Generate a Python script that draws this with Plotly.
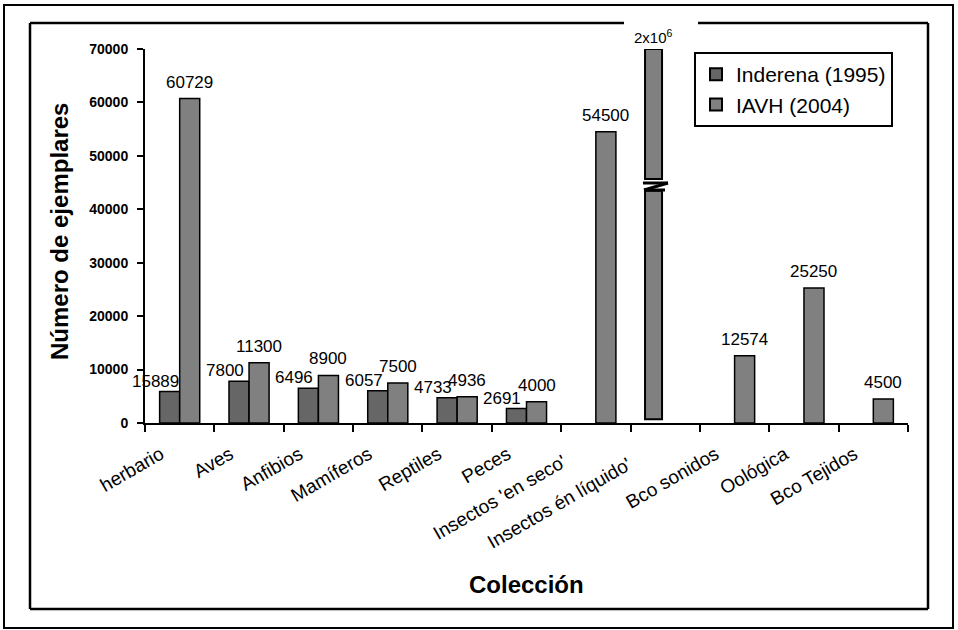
import plotly.graph_objects as go

categories = ["herbario", "Aves", "Anfibios", "Mamíferos", "Reptiles", "Peces",
              "Insectos 'en seco'", "Insectos én líquido'", "Bco sonidos", "Oológica", "Bco Tejidos"]
inderena_values = [5889, 7800, 6496, 6057, 4733, 2691, None, None, None, None, None]
inderena_labels = ["15889", "7800", "6496", "6057", "4733", "2691", "", "", "", "", ""]
iavh_values = [60729, 11300, 8900, 7500, 4936, 4000, 54500, None, 12574, 25250, 4500]
iavh_labels = ["60729", "11300", "8900", "7500", "4936", "4000", "54500", "", "12574", "25250", "4500"]
# broken bar (Insectos én líquido', 2x10^6 specimens), drawn in two segments
broken_category = "Insectos én líquido'"
broken_label = "2x10<sup>6</sup>"
broken_low = [700, 43450]
broken_high = [45650, 70000]

FONT = "Arial, Liberation Sans, sans-serif"
W, H = 958, 630
L, R, T, B = 145, 908, 49, 423

# trailing padding (non-breaking spaces) for the long rotated labels
label_pad = [0, 0, 0, 0, 0, 0, 3, 4, 0, 0, 0]
tick_text = [c + "\u00a0" * p for c, p in zip(categories, label_pad)]


def px_x(px):
    return (px - L) / (R - L)


def px_y(py):
    return (B - py) / (B - T)


bw = 0.289
fig = go.Figure()
fig.add_trace(go.Bar(x=categories, y=inderena_values, name="Inderena (1995)",
                     marker=dict(color="#666666", line=dict(color="black", width=1.5)),
                     width=bw, offset=-bw, cliponaxis=False))
fig.add_trace(go.Bar(x=categories, y=iavh_values, name="IAVH (2004)",
                     marker=dict(color="#808080", line=dict(color="black", width=1.5)),
                     width=bw, offset=0, cliponaxis=False))
for lo_hi in (broken_low, broken_high):
    fig.add_trace(go.Bar(x=[broken_category], base=[lo_hi[0]], y=[lo_hi[1] - lo_hi[0]],
                         showlegend=False, width=0.245, offset=-0.291,
                         marker=dict(color="#808080", line=dict(color="black", width=2)),
                         cliponaxis=False, hoverinfo="skip"))

annotations = []
for i, (v, t) in enumerate(zip(inderena_values, inderena_labels)):
    if v is not None:
        annotations.append(dict(x=i - bw / 2, y=v, xref="x", yref="y", text=t, showarrow=False,
                                xanchor="center", yanchor="bottom", xshift=-14, yshift=-1,
                                font=dict(family=FONT, size=17, color="black")))
for i, (v, t) in enumerate(zip(iavh_values, iavh_labels)):
    if v is not None:
        annotations.append(dict(x=i + bw / 2, y=v, xref="x", yref="y", text=t, showarrow=False,
                                xanchor="center", yanchor="bottom", yshift=5,
                                font=dict(family=FONT, size=17, color="black")))
bi = categories.index(broken_category)
annotations.append(dict(x=bi - 0.291 + 0.1225, y=broken_high[1], xref="x", yref="y", text=broken_label,
                        showarrow=False, xanchor="center", yanchor="bottom", yshift=1,
                        font=dict(family=FONT, size=15, color="black")))
annotations.append(dict(x=px_x(60), y=px_y(232), xref="paper", yref="paper", text="<b>Número de ejemplares</b>",
                        textangle=-90, showarrow=False, xanchor="center", yanchor="middle",
                        font=dict(family=FONT, size=24, color="black")))
annotations.append(dict(x=px_x(526), y=px_y(584), xref="paper", yref="paper", text="<b>Colección</b>",
                        showarrow=False, xanchor="center", yanchor="middle",
                        font=dict(family=FONT, size=24, color="black")))

# zigzag break marker
def dx(px):
    return (px - L) / ((R - L) / len(categories)) - 0.5


def dy(py):
    return (B - py) / (B - T) * 70000


shapes = []
zig = [(643, 183), (668, 183), (644, 190), (665, 190)]
for (x0, y0), (x1, y1) in zip(zig[:-1], zig[1:]):
    shapes.append(dict(type="line", xref="x", yref="y", x0=dx(x0), y0=dy(y0), x1=dx(x1), y1=dy(y1),
                       line=dict(color="black", width=3)))
# outer frame
shapes.append(dict(type="rect", xref="paper", yref="paper", x0=px_x(4), x1=px_x(953), y0=px_y(628), y1=px_y(5),
                   line=dict(color="black", width=2)))
# inner frame with gap at top
pts = [(624, 23), (30, 23), (30, 609), (928, 609), (928, 23), (698, 23)]
for (x0, y0), (x1, y1) in zip(pts[:-1], pts[1:]):
    shapes.append(dict(type="line", xref="paper", yref="paper", x0=px_x(x0), y0=px_y(y0), x1=px_x(x1), y1=px_y(y1),
                       line=dict(color="black", width=2.5)))

fig.update_layout(
    width=W, height=H,
    margin=dict(l=L, r=W - R, t=T, b=H - B),
    paper_bgcolor="white", plot_bgcolor="white",
    barmode="overlay",
    font=dict(family=FONT, color="black"),
    annotations=annotations,
    shapes=shapes,
    legend=dict(x=px_x(694), y=px_y(52), xanchor="left", yanchor="top",
                bordercolor="black", borderwidth=2, bgcolor="white",
                font=dict(family=FONT, size=21, color="black"),
                tracegroupgap=0, itemsizing="constant"),
    xaxis=dict(type="category", categoryorder="array", categoryarray=categories,
               tickmode="array", tickvals=categories, ticktext=tick_text,
               range=[-0.5, len(categories) - 0.5],
               showline=True, linecolor="black", linewidth=2,
               ticks="outside", tickson="boundaries", ticklen=7, tickwidth=2, tickcolor="black",
               tickangle=-30, tickfont=dict(family=FONT, size=19, color="black"),
               ticklabelshift=-19, ticklabelstandoff=11,
               showgrid=False, zeroline=False),
    yaxis=dict(range=[0, 70000], dtick=10000, showline=True, linecolor="black", linewidth=2,
               ticks="outside", ticklen=6, tickwidth=2, tickcolor="black",
               tickfont=dict(family=FONT, size=14, color="black"), tickformat="d",
               ticklabelstandoff=6,
               showgrid=False, zeroline=False),
)
fig.update_yaxes(tickprefix="<b>", ticksuffix="</b>")

fig.write_html("out.html", config={"displayModeBar": False},
               post_script="document.body.style.margin='0';document.body.style.overflow='hidden';")
